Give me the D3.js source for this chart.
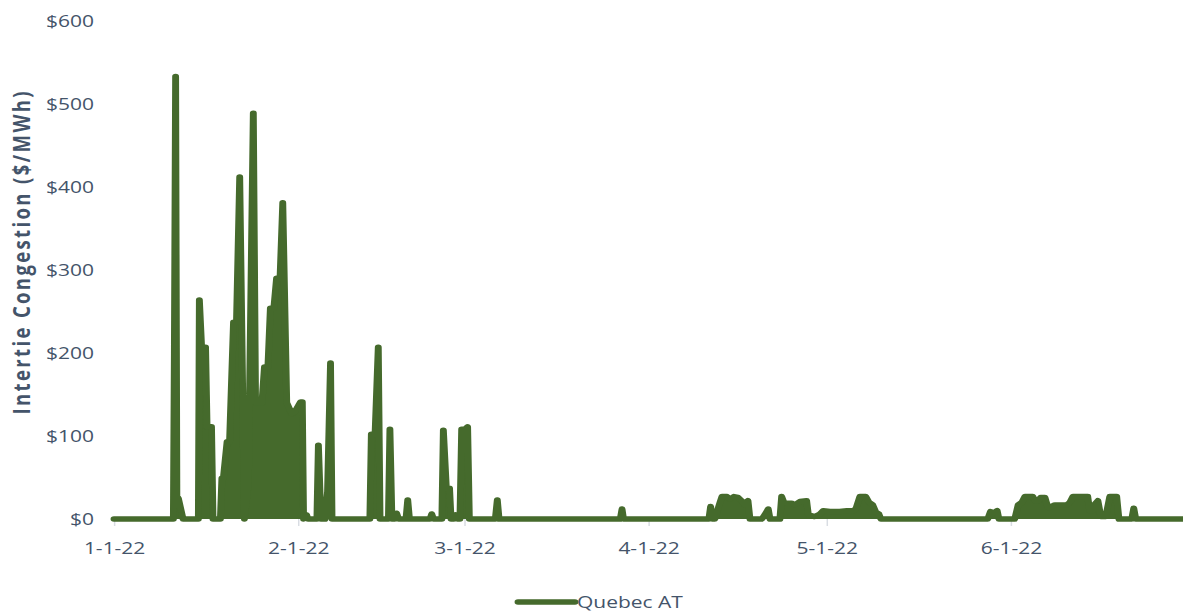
<!DOCTYPE html>
<html>
<head>
<meta charset="utf-8">
<script src="https://cdn.jsdelivr.net/npm/d3@7"></script>
<style>
  body { margin: 0; background: #ffffff; }
  svg { display: block; }
  text { font-family: "Open Sans", sans-serif; fill: #44546a; }
</style>
</head>
<body>
<div id="grafico"></div>
<script>
// Congestion horaria en la interconexion Quebec AT (ene - jun 2022)

// horas transcurridas desde 1-1-22 00:00
horas = [0, 240, 244, 249, 254, 260, 279,
  341, 345, 354, 370, 376, 394, 400,
  430, 436, 442, 457, 467, 483, 495, 508, 527, 543, 563, 572, 598, 608, 622, 632, 646, 657, 671, 682, 698, 718, 731, 754, 761, 766,
  778, 784, 820, 826, 836, 853, 863, 875, 881,
  1034, 1040, 1055, 1068, 1075, 1109, 1115, 1123, 1135, 1142, 1150,
  1180, 1187, 1194, 1277, 1284, 1291,
  1325, 1331, 1343, 1356, 1362, 1374, 1381, 1388, 1398, 1405, 1418, 1429, 1436,
  1541, 1549, 1556, 2046, 2053, 2059,
  2404, 2411, 2418, 2428, 2449, 2457, 2477, 2489, 2505, 2521, 2536, 2550, 2562, 2570,
  2618, 2630, 2644, 2651,
  2691, 2698, 2707, 2718, 2738, 2752, 2772, 2799, 2806, 2832, 2853, 2866, 2893, 2933, 2962, 2986, 2998, 3014, 3038, 3051, 3066, 3079, 3091, 3099,
  3531, 3542, 3554, 3569, 3576,
  3640, 3654, 3669, 3681, 3713, 3721, 3735, 3745, 3762, 3774, 3782, 3802, 3850, 3863, 3875, 3935, 3943, 3954, 3964, 3976, 3988, 4008, 4024, 4052, 4061,
  4113, 4121, 4129, 4343]

// congestion en $/MWh
valores = [0, 0, 200, 533, 25, 25, 0,
  0, 264, 207, 207, 111, 111, 0,
  0, 49, 49, 93, 93, 237, 237, 412, 0, 43, 489, 140, 140, 183, 183, 254, 254, 290, 290, 381, 140, 127, 129, 141, 141, 0,
  5, 0, 0, 89, 0, 0, 33, 188, 0,
  0, 102, 102, 207, 0, 0, 108, 0, 0, 7, 0,
  0, 23, 0, 0, 6, 0,
  0, 107, 37, 37, 0, 0, 5, 0, 0, 108, 108, 111, 0,
  0, 23, 0, 0, 12, 0,
  0, 15, 0, 0, 20, 27, 27, 24, 27, 26, 22, 17, 22, 0,
  0, 5, 12, 0,
  0, 27, 20, 19, 19, 17, 21, 22, 5, 3, 6, 10, 9, 9, 10, 10, 12, 27, 27, 20, 17, 8, 6, 0,
  0, 9, 7, 10, 0,
  0, 17, 20, 27, 27, 22, 22, 26, 26, 14, 14, 17, 17, 20, 27, 27, 10, 10, 18, 22, 3, 3, 27, 27, 0,
  0, 13, 0, 0]

etiquetasX = ['1-1-22', '2-1-22', '3-1-22', '4-1-22', '5-1-22', '6-1-22']
ticksY = [0, 100, 200, 300, 400, 500, 600]
serie = 'Quebec AT'
tituloY = 'Intertie Congestion  ($/MWh)'

// la imagen original esta estirada a lo ancho
estiramiento = 1.25
ancho_px = 1183
alto_total = 614
ancho_total = ancho_px / estiramiento

margins = { top: 21, left: 114 / estiramiento, right: 0, bottom: 95 }
ancho = ancho_total - margins.left - margins.right
alto = alto_total - margins.top - margins.bottom

colorLinea = '#456a2c'
inicio = new Date(2022, 0, 1)
parser = d3.timeParse('%m-%d-%y')

data = horas.map((h, i) => ({ fecha: d3.timeHour.offset(inicio, h), valor: valores[i] }))

svg = d3.select('#grafico').append('svg')
  .attr('width', ancho_px)
  .attr('height', alto_total)
  .attr('viewBox', `0 0 ${ancho_total} ${alto_total}`)
  .attr('preserveAspectRatio', 'none')

g = svg.append('g')
  .attr('transform', `translate(${margins.left}, ${margins.top})`)

// escalas
x = d3.scaleTime()
  .domain([inicio, new Date(2022, 5, 30)])
  .range([0, ancho])
y = d3.scaleLinear()
  .domain([0, 600])
  .range([alto, 0])

// eje X
xAxis = g.append('g')
  .attr('transform', `translate(0, ${alto})`)
  .call(d3.axisBottom(x)
    .tickValues(etiquetasX.map(parser))
    .tickFormat(d3.timeFormat('%-m-%-d-%y'))
    .tickSize(7)
    .tickPadding(16))
xAxis.select('.domain').remove()
xAxis.selectAll('line').attr('stroke', '#d9dde3').attr('stroke-width', 1.2)
xAxis.selectAll('text')
  .attr('font-size', 16.8)
  .attr('fill', '#44546a')
  .style('font-family', '"Open Sans", sans-serif')

// eje Y
yAxis = g.append('g')
  .call(d3.axisLeft(y)
    .tickValues(ticksY)
    .tickFormat(d3.format('$d'))
    .tickSize(0)
    .tickPadding(16))
yAxis.select('.domain').remove()
yAxis.selectAll('text')
  .attr('font-size', 16.8)
  .attr('fill', '#44546a')
  .style('font-family', '"Open Sans", sans-serif')

// titulo del eje Y
svg.append('text')
  .attr('transform', `translate(${22 / estiramiento}, ${253}) rotate(-90)`)
  .attr('text-anchor', 'middle')
  .attr('dy', '0.35em')
  .attr('font-size', 18.5)
  .attr('font-weight', 'bold')
  .attr('textLength', 323)
  .attr('lengthAdjust', 'spacing')
  .text(tituloY)

// los datos horarios oscilan tan rapido que la linea se ve rellena
areaGen = d3.area()
  .x(d => x(d.fecha))
  .y0(y(0))
  .y1(d => y(d.valor))

g.append('path')
  .datum(data)
  .attr('fill', colorLinea)
  .attr('d', areaGen)

// linea de la serie
lineaGen = d3.line()
  .x(d => x(d.fecha))
  .y(d => y(d.valor))

g.append('path')
  .datum(data)
  .attr('fill', 'none')
  .attr('stroke', colorLinea)
  .attr('stroke-width', 5.5)
  .attr('stroke-linejoin', 'round')
  .attr('stroke-linecap', 'round')
  .attr('d', lineaGen)

// leyenda
leyenda = svg.append('g')
  .attr('transform', `translate(${518 / estiramiento}, 602)`)
leyenda.append('line')
  .attr('x1', 0).attr('x2', 57 / estiramiento)
  .attr('stroke', colorLinea)
  .attr('stroke-width', 5.5)
  .attr('stroke-linecap', 'round')
leyenda.append('text')
  .attr('x', 59 / estiramiento)
  .attr('dy', '0.35em')
  .attr('font-size', 16.8)
  .text(serie)
</script>
</body>
</html>
